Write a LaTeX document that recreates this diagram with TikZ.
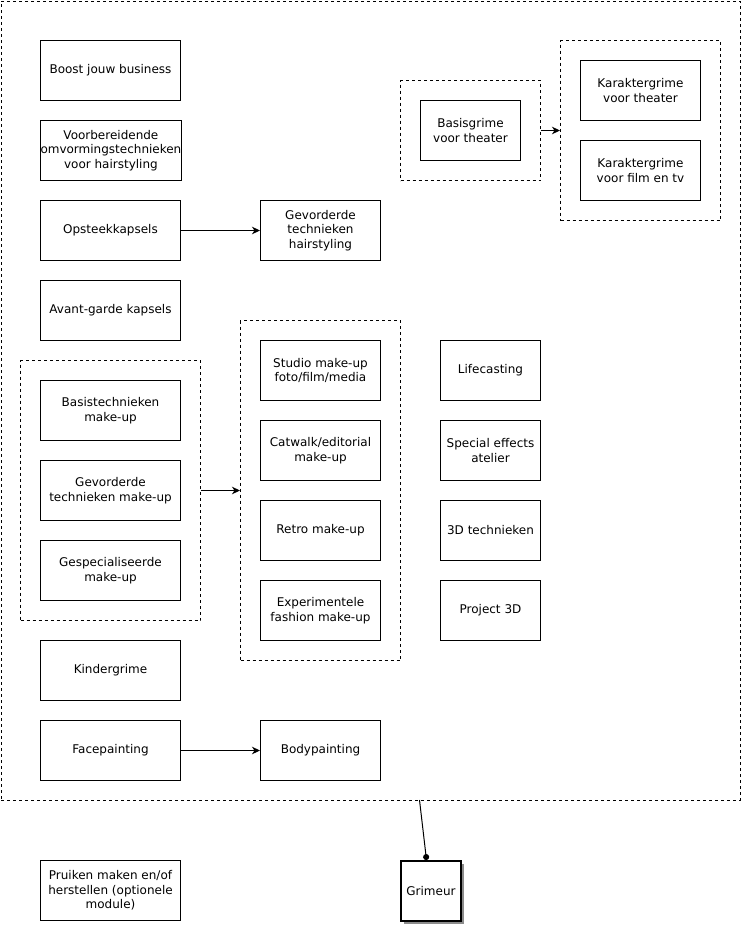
\documentclass[tikz,border=0pt]{standalone}
\usepackage{fontspec}
\setmainfont{DejaVu Sans}
\usetikzlibrary{arrows.meta,shadows}
\newcommand{\boxfont}{\fontsize{12}{14.5}\selectfont}
\tikzset{
  box/.style={draw, line width=1pt, minimum width=140pt, minimum height=60pt, inner sep=0pt, align=center, font=\boxfont, anchor=north west},
  nbox/.style={box, minimum width=120pt},
  sbox/.style={box, minimum width=100pt},
  grp/.style={draw, line width=1pt, dash pattern=on 3pt off 3pt, inner sep=0pt, anchor=north west},
  arr/.style={line width=1pt, -{Stealth[length=8pt,width=7.5pt,inset=2.5pt]}},
}
\begin{document}
\begin{tikzpicture}[x=1pt,y=-1pt]
\useasboundingbox (0,0) rectangle (745,929);
% outer group
\node[grp, minimum width=739pt, minimum height=799pt] (outer) at (0.5,0.5) {};
% left column
\node[box] (boost) at (40,40) {Boost jouw business};
\node[box] (voorb) at (40,120) {Voorbereidende\\omvormingstechnieken\\voor hairstyling};
\node[box] (opst) at (40,200) {Opsteekkapsels};
\node[nbox] (gevhair) at (260,200) {Gevorderde\\technieken\\hairstyling};
\node[box] (avant) at (40,280) {Avant-garde kapsels};
% left make-up group
\node[grp, minimum width=180pt, minimum height=260pt] (gleft) at (20,360) {};
\node[box] (basmu) at (40,380) {Basistechnieken\\make-up};
\node[box] (gevmu) at (40,460) {Gevorderde\\technieken make-up};
\node[box] (gesmu) at (40,540) {Gespecialiseerde\\make-up};
% middle group
\node[grp, minimum width=160pt, minimum height=340pt] (gmid) at (240,320) {};
\node[nbox] (studio) at (260,340) {Studio make-up\\foto/film/media};
\node[nbox] (catwalk) at (260,420) {Catwalk/editorial\\make-up};
\node[nbox] (retro) at (260,500) {Retro make-up};
\node[nbox] (exper) at (260,580) {Experimentele\\fashion make-up};
% right column
\node[sbox] (life) at (440,340) {Lifecasting};
\node[sbox] (sfx) at (440,420) {Special effects\\atelier};
\node[sbox] (tech3d) at (440,500) {3D technieken};
\node[sbox] (proj3d) at (440,580) {Project 3D};
% bottom left
\node[box] (kinder) at (40,640) {Kindergrime};
\node[box] (face) at (40,720) {Facepainting};
\node[nbox] (body) at (260,720) {Bodypainting};
% theatre groups
\node[grp, minimum width=140pt, minimum height=100pt] (gbas) at (400,80) {};
\node[sbox] (basgr) at (420,100) {Basisgrime\\voor theater};
\node[grp, minimum width=160pt, minimum height=180pt] (gkar) at (560,40) {};
\node[nbox] (kartheat) at (580,60) {Karaktergrime\\voor theater};
\node[nbox] (karfilm) at (580,140) {Karaktergrime\\voor film en tv};
% outside
\node[box] (pruik) at (40,860) {Pruiken maken en/of\\herstellen (optionele\\module)};
\node[box, minimum width=60pt, line width=2pt, fill=white, drop shadow={shadow xshift=3pt, shadow yshift=-3pt, fill=black!45, opacity=1}] (grim) at (400,860) {Grimeur};
% connectors
\draw[arr] (opst) -- (gevhair);
\draw[arr] (gleft) -- (gmid);
\draw[arr] (gbas) -- (gkar);
\draw[arr] (face) -- (body);
\coordinate (ostart) at (419.5,800);
\draw[line width=1pt, -{Circle[length=6pt]}] (ostart) -- (grim.north -| 426.5,0);
\end{tikzpicture}
\end{document}
